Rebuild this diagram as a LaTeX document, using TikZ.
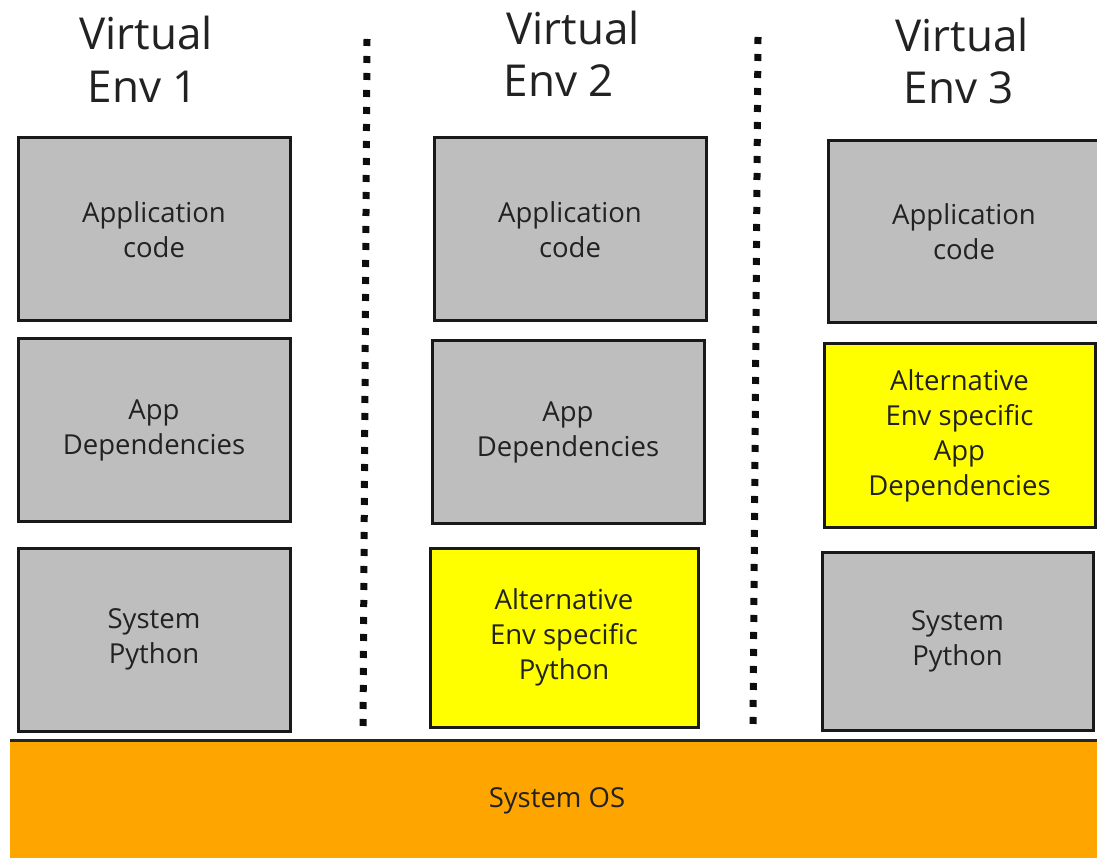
\documentclass[tikz,border=0pt]{standalone}
\usepackage{fontspec}
\setmainfont{Open Sans}
\definecolor{boxgrey}{HTML}{BEBEBE}
\definecolor{boxyellow}{HTML}{FFFF00}
\definecolor{osorange}{HTML}{FFA500}
\definecolor{txt}{HTML}{222222}
\begin{document}
\begin{tikzpicture}[x=1pt,y=-1pt,
  layer/.style={draw=black!90, line width=3pt, align=center, text=txt,
    font=\fontsize{27.5}{35}\selectfont, inner sep=0pt},
  greybox/.style={layer, fill=boxgrey},
  yellowbox/.style={layer, fill=boxyellow},
  title/.style={anchor=base, text=txt, font=\fontsize{44}{52}\selectfont, inner sep=0pt},
  sep/.style={line width=7pt, dash pattern=on 7pt off 10pt, draw=black!95}
]
\clip (0,0) rectangle (1097,858);
\fill[white] (0,0) rectangle (1097,858);

% titles
\node[title] (t1a) at (146,50) {Virtual};
\node[title] (t1b) at (143,103) {Env 1};
\node[title] (t2a) at (573,45) {Virtual};
\node[title] (t2b) at (559,97) {Env 2};
\node[title] (t3a) at (962,52) {Virtual};
\node[title] (t3b) at (959,104) {Env 3};

% separators
\coordinate (s1t) at (367,39);
\coordinate (s1b) at (363,733);
\coordinate (s2t) at (758,37);
\coordinate (s2b) at (753,731);
\draw[sep] (s1t) -- (s1b);
\draw[sep] (s2t) -- (s2b);

% Env 1
\node[greybox, minimum width=272pt, minimum height=183pt] (a1) at (154,229.5) {Application\\code};
\node[greybox, minimum width=272pt, minimum height=182pt] (d1) at (154,430) {App\\Dependencies};
\node[greybox, minimum width=272pt, minimum height=183pt] (p1) at (154,639.5) {System\\Python};

% Env 2
\node[greybox, minimum width=272pt, minimum height=183pt] (a2) at (570,229.5) {Application\\code};
\node[greybox, minimum width=272pt, minimum height=182pt] (d2) at (568,432) {App\\Dependencies};
\node[yellowbox, minimum width=268pt, minimum height=179pt] (p2) at (564,637.5) {Alternative\\Env specific\\Python};

% Env 3
\node[greybox, minimum width=272pt, minimum height=182pt] (a3) at (964,232) {Application\\code};
\node[yellowbox, minimum width=271pt, minimum height=183pt] (d3) at (959.5,435.5) {Alternative\\Env specific\\App\\Dependencies};
\node[greybox, minimum width=271pt, minimum height=178pt] (p3) at (957.5,641) {System\\Python};

% System OS
\node[fill=osorange, minimum width=1100pt, minimum height=130pt, inner sep=0pt, anchor=north west] (os) at (10,740) {};
\draw[line width=3pt, draw=black!85] (os.north west) -- (os.north east);
\node[text=txt, font=\fontsize{27.5}{35}\selectfont] (ostext) at (557,801) {System OS};
\end{tikzpicture}
\end{document}
